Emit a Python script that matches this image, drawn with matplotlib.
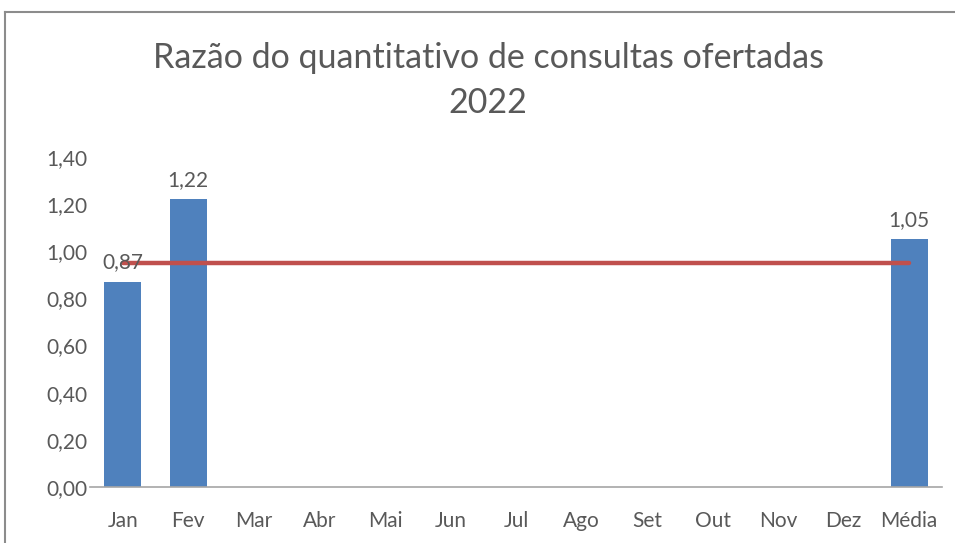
import matplotlib.pyplot as plt
from matplotlib.lines import Line2D

categories = ["Jan", "Fev", "Mar", "Abr", "Mai", "Jun", "Jul", "Ago", "Set", "Out", "Nov", "Dez", "Média"]
values = [0.87, 1.22, None, None, None, None, None, None, None, None, None, None, 1.05]
reference_value = 0.95
yticks = [0.0, 0.2, 0.4, 0.6, 0.8, 1.0, 1.2, 1.4]

plt.rcParams['font.family'] = ['Lato', 'DejaVu Sans']
gray = '#595959'

fig = plt.figure(figsize=(9.55, 5.43), dpi=100)
ax = fig.add_axes([90/955, 1-487/543, 852/955, 330/543])

xs = list(range(len(categories)))
bx = [x for x, v in zip(xs, values) if v is not None]
bv = [v for v in values if v is not None]
ax.bar(bx, bv, width=0.565, color='#4F81BD', zorder=2)
for x, v in zip(bx, bv):
    ax.annotate(f"{v:.2f}".replace('.', ','), (x, v), xytext=(0, 7), textcoords='offset points',
                ha='center', va='bottom', fontsize=15, color=gray, zorder=4)

ax.plot([xs[0], xs[-1]], [reference_value]*2, color='#C0504D', lw=3.2, zorder=3, solid_capstyle='round')

ax.set_xlim(-0.5, len(categories)-0.5)
ax.set_ylim(0, 1.4)
ax.set_yticks(yticks)
ax.set_yticklabels([f"{t:.2f}".replace('.', ',') for t in yticks])
ax.set_xticks(xs)
ax.set_xticklabels(categories)
ax.tick_params(axis='both', length=0, labelsize=15, colors=gray)
ax.tick_params(axis='x', pad=17)
ax.tick_params(axis='y', pad=2)
for s in ['top', 'right', 'left']:
    ax.spines[s].set_visible(False)
ax.spines['bottom'].set_color('#A6A6A6')
ax.spines['bottom'].set_linewidth(1.2)

fig.text(488/955, 1-58/543, "Razão do quantitativo de consultas ofertadas", ha='center', va='center',
         fontsize=24.5, color=gray)
fig.text(488/955, 1-103/543, "2022", ha='center', va='center', fontsize=24.5, color=gray)

# outer chart border
fig.add_artist(Line2D([5/955, 5/955], [0, 1-12/543], color='#8C8C8C', lw=1.5))
fig.add_artist(Line2D([5/955, 1], [1-12/543, 1-12/543], color='#8C8C8C', lw=1.5))

fig.savefig('out.png', dpi=100)
